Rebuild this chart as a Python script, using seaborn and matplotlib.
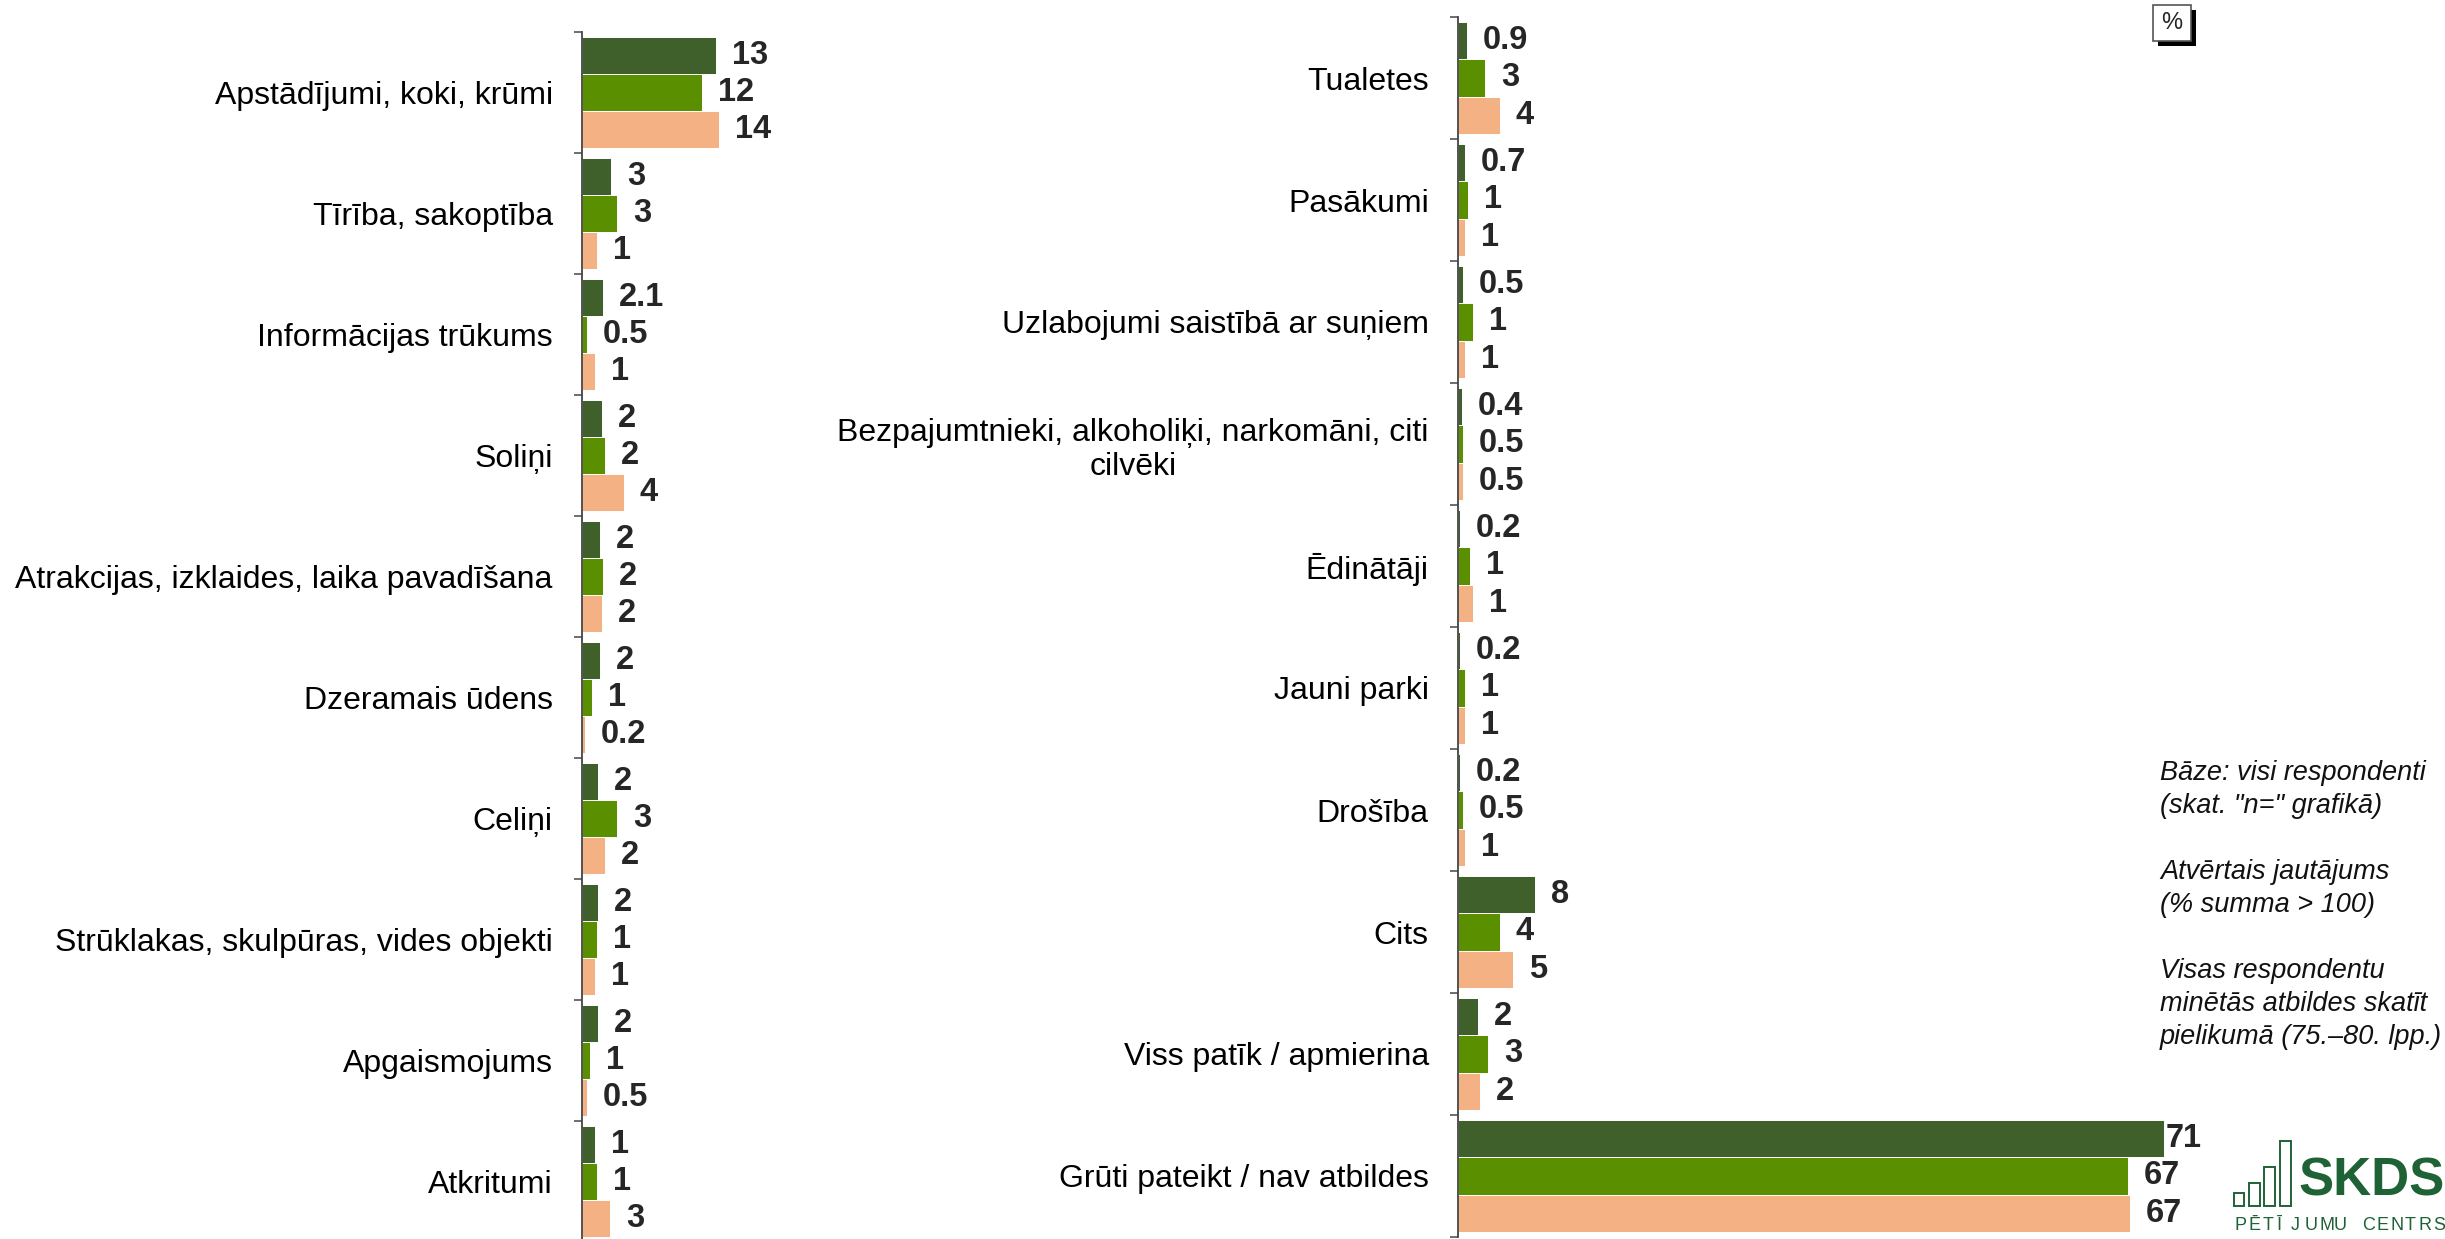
import numpy as np
import pandas as pd
import seaborn as sns
import matplotlib.pyplot as plt
from matplotlib.patches import Rectangle

# ---- data ----
groups = ["g1", "g2", "g3"]
colors = ["#3f602b", "#5a8f00", "#f4b183"]

left_cats = ["Apstādījumi, koki, krūmi", "Tīrība, sakoptība", "Informācijas trūkums",
             "Soliņi", "Atrakcijas, izklaides, laika pavadīšana", "Dzeramais ūdens",
             "Celiņi", "Strūklakas, skulpūras, vides objekti", "Apgaismojums", "Atkritumi"]
left_g1 = [13.4, 2.9, 2.1, 2.0, 1.8, 1.8, 1.6, 1.6, 1.6, 1.3]
left_g2 = [12.0, 3.5, 0.5, 2.3, 2.1, 1.0, 3.5, 1.5, 0.8, 1.5]
left_g3 = [13.7, 1.5, 1.3, 4.2, 2.0, 0.3, 2.3, 1.3, 0.5, 2.8]
left_g1_lbl = ["13", "3", "2.1", "2", "2", "2", "2", "2", "2", "1"]
left_g2_lbl = ["12", "3", "0.5", "2", "2", "1", "3", "1", "1", "1"]
left_g3_lbl = ["14", "1", "1", "4", "2", "0.2", "2", "1", "0.5", "3"]

right_cats = ["Tualetes", "Pasākumi", "Uzlabojumi saistībā ar suņiem",
              "Bezpajumtnieki, alkoholiķi, narkomāni, citi\ncilvēki", "Ēdinātāji",
              "Jauni parki", "Drošība", "Cits", "Viss patīk / apmierina",
              "Grūti pateikt / nav atbildes"]
right_g1 = [0.9, 0.7, 0.5, 0.4, 0.2, 0.2, 0.2, 7.7, 2.0, 70.6]
right_g2 = [2.7, 1.0, 1.5, 0.5, 1.2, 0.7, 0.5, 4.2, 3.0, 67.0]
right_g3 = [4.2, 0.7, 0.7, 0.5, 1.5, 0.7, 0.7, 5.5, 2.2, 67.2]
right_g1_lbl = ["0.9", "0.7", "0.5", "0.4", "0.2", "0.2", "0.2", "8", "2", "71"]
right_g2_lbl = ["3", "1", "1", "0.5", "1", "1", "0.5", "4", "3", "67"]
right_g3_lbl = ["4", "1", "1", "0.5", "1", "1", "1", "5", "2", "67"]

note = ("Bāze: visi respondenti\n(skat. \"n=\" grafikā)\n\n"
        "Atvērtais jautājums\n(% summa > 100)\n\n"
        "Visas respondentu\nminētās atbildes skatīt\npielikumā (75.–80. lpp.)")

W, H = 2445, 1239
sns.set_theme(style="white")
plt.rcParams["font.family"] = ["Liberation Sans", "DejaVu Sans"]


def long_df(cats, a, b, c):
    rows = []
    for g, vals in zip(groups, [a, b, c]):
        for cat, v in zip(cats, vals):
            rows.append({"cat": cat, "grp": g, "val": v})
    return pd.DataFrame(rows)


def draw_panel(ax, cats, vals, lbls, xmax):
    df = long_df(cats, *vals)
    sns.barplot(data=df, y="cat", x="val", hue="grp", order=cats, hue_order=groups,
                palette=colors, orient="h", width=0.91, saturation=1, legend=False,
                edgecolor="white", linewidth=0.7, ax=ax)
    n = len(cats)
    ax.set_xlim(0, xmax)
    ax.set_ylim(n - 0.5, -0.5)
    ax.set_xlabel("")
    ax.set_ylabel("")
    ax.set_xticks([])
    ax.set_yticks(np.arange(n))
    ax.set_yticklabels(cats, fontsize=23, color="black")
    for t in ax.get_yticklabels():
        t.set_multialignment("center")
    ax.set_yticks(np.arange(n + 1) - 0.5, minor=True)
    ax.tick_params(axis="y", which="major", length=0, pad=21)
    ax.tick_params(axis="y", which="minor", length=6, width=1.2, color="#555555", left=True)
    for s in ["top", "right", "bottom"]:
        ax.spines[s].set_visible(False)
    ax.spines["left"].set_color("#444444")
    ax.spines["left"].set_linewidth(1.3)
    for cont, lab in zip(ax.containers, lbls):
        for rect, txt in zip(cont, lab):
            w = rect.get_width()
            # the longest bar's label sits right at the bar end in the reference
            off = 1.2 if w >= 70 else 11.5
            ax.annotate(txt, (w, rect.get_y() + rect.get_height() / 2),
                        xytext=(off, 0), textcoords="offset points",
                        ha="left", va="center", fontsize=23.5, fontweight="bold")


fig = plt.figure(figsize=(W / 100, H / 100), dpi=100)
fig.patch.set_facecolor("white")

ax_l = fig.add_axes([582 / W, -3 / H, 200 / W, 1210 / H])
ax_r = fig.add_axes([1458 / W, 2 / H, 750 / W, 1220 / H])
for ax in (ax_l, ax_r):
    ax.set_facecolor("none")

draw_panel(ax_l, left_cats, [left_g1, left_g2, left_g3],
           [left_g1_lbl, left_g2_lbl, left_g3_lbl], 20)
draw_panel(ax_r, right_cats, [right_g1, right_g2, right_g3],
           [right_g1_lbl, right_g2_lbl, right_g3_lbl], 75)

# notes on the right
fig.text(2160 / W, 1 - 905 / H, note, fontsize=19.5, style="italic",
         ha="left", va="center", linespacing=1.35, color="#111111")

# "%" box with shadow
fig.patches.append(Rectangle((2158 / W, 1 - 46 / H), 38 / W, 36 / H,
                             transform=fig.transFigure, facecolor="black",
                             edgecolor="none", zorder=5))
fig.patches.append(Rectangle((2153 / W, 1 - 41 / H), 38 / W, 36 / H,
                             transform=fig.transFigure, facecolor="white",
                             edgecolor="#555555", linewidth=1.2, zorder=6))
fig.text(2172 / W, 1 - 23 / H, "%", fontsize=17, ha="center", va="center", zorder=7)

# SKDS logo
logo = "#1f6236"
icon_bars = [(2234, 1193, 10, 13), (2249, 1183, 11, 23), (2264, 1167, 11, 39), (2280, 1141, 11, 65)]
for x0, y0, w0, h0 in icon_bars:
    fig.patches.append(Rectangle((x0 / W, 1 - (y0 + h0) / H), w0 / W, h0 / H,
                                 transform=fig.transFigure, facecolor="white",
                                 edgecolor=logo, linewidth=1.4, zorder=5))
fig.text(2298 / W, 1 - 1196 / H, "SKDS", fontsize=38, fontweight="bold",
         color=logo, ha="left", va="baseline")
slot = 0
for word in ["PĒTĪJUMU", "CENTRS"]:
    for ch in word:
        fig.text((2234 + slot * 14.2) / W, 1 - 1230 / H, ch, fontsize=13,
                 color=logo, ha="left", va="baseline")
        slot += 1
    slot += 1

fig.savefig("out.png", dpi=100, facecolor="white")
